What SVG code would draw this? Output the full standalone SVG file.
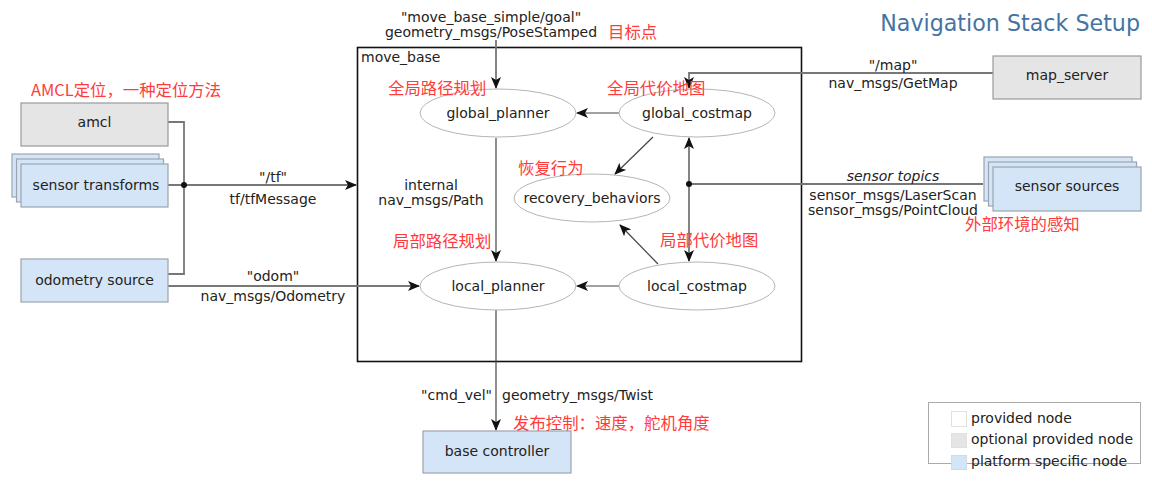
<svg xmlns="http://www.w3.org/2000/svg" width="1152" height="492" viewBox="0 0 1152 492">
<style>
.t{font-family:"DejaVu Sans","Noto Sans",sans-serif;font-size:14px;fill:#222}
.m{text-anchor:middle}
.r{font-family:"Noto Sans CJK SC","Noto Sans",sans-serif;font-size:16.4px;fill:#ff3b3b}
.opt{fill:#e5e5e5;stroke:#9a9a9a;stroke-width:1.2}
.plat{fill:#d4e5f7;stroke:#9aa4ae;stroke-width:1.2}
.ell{fill:#fff;stroke:#b5b5b5;stroke-width:1}
.c{fill:none;stroke:#777;stroke-width:1.8}
.ci{fill:none;stroke:#444;stroke-width:1.2}
</style>
<defs>
<marker id="ah" markerWidth="12" markerHeight="10" refX="11" refY="5" orient="auto" markerUnits="userSpaceOnUse">
<path d="M0,0 L12,5 L0,10 L3,5 z" fill="#111"/>
</marker>
</defs>
<rect width="1152" height="492" fill="#fff"/>
<text x="1140" y="31" text-anchor="end" style="font-family:'DejaVu Sans',sans-serif;font-size:22.2px;fill:#4473a4">Navigation Stack Setup</text>

<g id="move_base">
<rect x="357.5" y="47.5" width="444" height="314" fill="none" stroke="#111" stroke-width="1.6"/>
<text class="t" x="361" y="62">move_base</text>
</g>

<g id="connectors">
<polyline class="c" points="168,122 184,122 184,274 168,274"/>
<line class="c" x1="168" y1="185" x2="356" y2="185" marker-end="url(#ah)"/>
<circle cx="184" cy="185" r="3" fill="#111"/>
<line class="c" x1="168" y1="286" x2="419" y2="286" marker-end="url(#ah)"/>
<line class="c" x1="496" y1="40" x2="496" y2="88" marker-end="url(#ah)"/>
<polyline class="c" points="993,73 689,73 689,88" marker-end="url(#ah)"/>
<line class="c" x1="983" y1="184" x2="689" y2="184"/>
<line class="c" x1="689" y1="184" x2="689" y2="138" marker-end="url(#ah)"/>
<line class="c" x1="689" y1="184" x2="689" y2="261" marker-end="url(#ah)"/>
<circle cx="689" cy="184" r="3" fill="#111"/>
<line class="ci" x1="619" y1="113" x2="577" y2="113" marker-end="url(#ah)"/>
<line class="ci" x1="619" y1="286" x2="577" y2="286" marker-end="url(#ah)"/>
<line class="ci" x1="496" y1="138" x2="496" y2="261" marker-end="url(#ah)"/>
<line class="ci" x1="653" y1="137" x2="615" y2="174" marker-end="url(#ah)"/>
<line class="ci" x1="658" y1="264" x2="620" y2="225" marker-end="url(#ah)"/>
<line class="ci" x1="496" y1="310" x2="496" y2="430" marker-end="url(#ah)"/>
<text class="t m" x="491" y="22">"move_base_simple/goal"</text>
<text class="t m" x="491" y="37">geometry_msgs/PoseStamped</text>
<text class="t m" x="273" y="182">"/tf"</text>
<text class="t m" x="273" y="204">tf/tfMessage</text>
<text class="t m" x="273" y="281">"odom"</text>
<text class="t m" x="273" y="301">nav_msgs/Odometry</text>
<text class="t m" x="431" y="190">internal</text>
<text class="t m" x="431" y="205">nav_msgs/Path</text>
<text class="t m" x="893" y="70">"/map"</text>
<text class="t m" x="893" y="88">nav_msgs/GetMap</text>
<text class="t m" x="893" y="181" font-style="italic">sensor topics</text>
<text class="t m" x="893" y="200">sensor_msgs/LaserScan</text>
<text class="t m" x="893" y="215">sensor_msgs/PointCloud</text>
<text class="t" x="492" y="400" text-anchor="end">"cmd_vel"</text>
<text class="t" x="502" y="400">geometry_msgs/Twist</text>
</g>

<g id="amcl">
<rect class="opt" x="21" y="103" width="147" height="43"/>
<text class="t m" x="94.5" y="127">amcl</text>
</g>
<g id="sensor_transforms">
<rect class="plat" x="12" y="154" width="147" height="43"/>
<rect class="plat" x="16.5" y="159" width="147" height="43"/>
<rect class="plat" x="21" y="164" width="147" height="43"/>
<text class="t m" x="96" y="190">sensor transforms</text>
</g>
<g id="odometry_source">
<rect class="plat" x="21" y="259" width="147" height="43"/>
<text class="t m" x="94.5" y="285">odometry source</text>
</g>
<g id="map_server">
<rect class="opt" x="993" y="56" width="148" height="43"/>
<text class="t m" x="1067" y="80">map_server</text>
</g>
<g id="sensor_sources">
<rect class="plat" x="984" y="157" width="148" height="44"/>
<rect class="plat" x="988.5" y="162" width="148" height="44"/>
<rect class="plat" x="993" y="167" width="148" height="44"/>
<text class="t m" x="1067" y="191">sensor sources</text>
</g>
<g id="base_controller">
<rect class="plat" x="423" y="431" width="148" height="42"/>
<text class="t m" x="497" y="456">base controller</text>
</g>
<g id="global_planner">
<ellipse class="ell" cx="498" cy="113" rx="78" ry="24"/>
<text class="t m" x="498" y="118">global_planner</text>
</g>
<g id="global_costmap">
<ellipse class="ell" cx="697" cy="113" rx="78" ry="24"/>
<text class="t m" x="697" y="118">global_costmap</text>
</g>
<g id="recovery_behaviors">
<ellipse class="ell" cx="592" cy="198" rx="78" ry="24"/>
<text class="t m" x="592" y="203">recovery_behaviors</text>
</g>
<g id="local_planner">
<ellipse class="ell" cx="498" cy="286" rx="78" ry="24"/>
<text class="t m" x="498" y="291">local_planner</text>
</g>
<g id="local_costmap">
<ellipse class="ell" cx="697" cy="286" rx="78" ry="24"/>
<text class="t m" x="697" y="291">local_costmap</text>
</g>

<g id="annotations">
<text class="r" x="31" y="96">AMCL定位，一种定位方法</text>
<text class="r" x="608" y="38">目标点</text>
<text class="r" x="388" y="94">全局路径规划</text>
<text class="r" x="607" y="94">全局代价地图</text>
<text class="r" x="518" y="174">恢复行为</text>
<text class="r" x="393" y="247">局部路径规划</text>
<text class="r" x="660" y="246">局部代价地图</text>
<text class="r" x="965" y="230">外部环境的感知</text>
<text class="r" x="513" y="429">发布控制：速度，舵机角度</text>
</g>

<g id="legend">
<rect x="928.5" y="402.5" width="212" height="61" fill="#fff" stroke="#aaa" stroke-width="1"/>
<rect x="951.5" y="411.5" width="15" height="15" fill="#fff" stroke="#e0e0e0"/>
<rect x="951.5" y="433.5" width="15" height="14" fill="#e5e5e5" stroke="#e0e0e0"/>
<rect x="951.5" y="455.5" width="15" height="14" fill="#d4e5f7" stroke="#d0dbe6"/>
<text class="t" x="971" y="423">provided node</text>
<text class="t" x="971" y="444">optional provided node</text>
<text class="t" x="971" y="466">platform specific node</text>
</g>
</svg>
